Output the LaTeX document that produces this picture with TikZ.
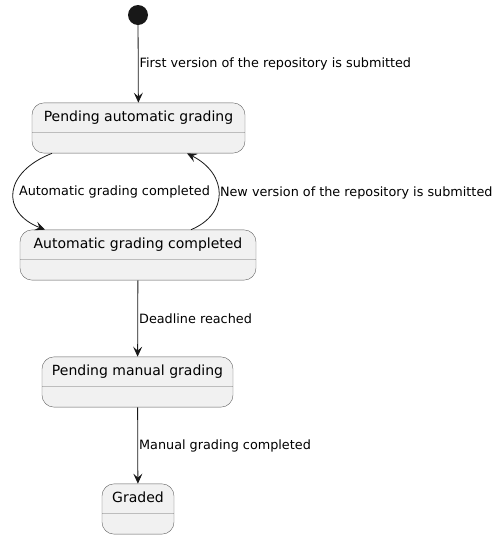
\documentclass[tikz,border=0pt]{standalone}
\usepackage{fontspec}
\setmainfont{DejaVu Sans}
\usepackage{tikz}
\usetikzlibrary{arrows.meta,shapes.multipart}

\definecolor{statefill}{HTML}{F1F1F1}
\definecolor{stateline}{HTML}{5F5F5F}
\definecolor{arrowline}{HTML}{181818}

\begin{document}
\begin{tikzpicture}[x=1pt,y=-1pt,
  state/.style={rectangle split,rectangle split parts=2,draw=stateline,fill=statefill,
    rounded corners=12pt,inner ysep=7.5pt,text height=10.5pt,text depth=3.5pt,
    font=\fontsize{14}{16}\selectfont},
  trans/.style={draw=arrowline,line width=0.8pt,-{Stealth[length=10pt,width=9pt,inset=4pt]}},
  lbl/.style={anchor=west,inner xsep=1pt,font=\fontsize{12.8}{15}\selectfont}]
\useasboundingbox (0,0) rectangle (499,539);
\node [circle,fill=arrowline,minimum size=20pt,inner sep=0pt] (start) at (138,15) {};
\node [state,minimum width=213pt] (pauto) at (138.5,128) {Pending automatic grading \nodepart{two}};
\node [state,minimum width=236pt] (done) at (138,255) {Automatic grading completed \nodepart{two}};
\node [state,minimum width=191pt] (pman) at (137.5,382) {Pending manual grading \nodepart{two}};
\node [state,minimum width=72pt] (graded) at (138,509) {Graded \nodepart{two}};

\draw [trans] (start) -- node [lbl] {First version of the repository is submitted} (pauto);
\draw [trans] ([xshift=-86.5pt]pauto.south) .. controls (4,172) and (0,212) ..
  node [lbl,inner xsep=5pt] {Automatic grading completed} ([xshift=-93pt]done.north);
\draw [trans] ([xshift=53pt]done.north) .. controls (229,214) and (228,174) ..
  node [lbl] {New version of the repository is submitted} ([xshift=48.5pt]pauto.south);
\draw [trans] (done) -- node [lbl] {Deadline reached} (pman);
\draw [trans] (pman) -- node [lbl] {Manual grading completed} (graded);
\end{tikzpicture}
\end{document}
